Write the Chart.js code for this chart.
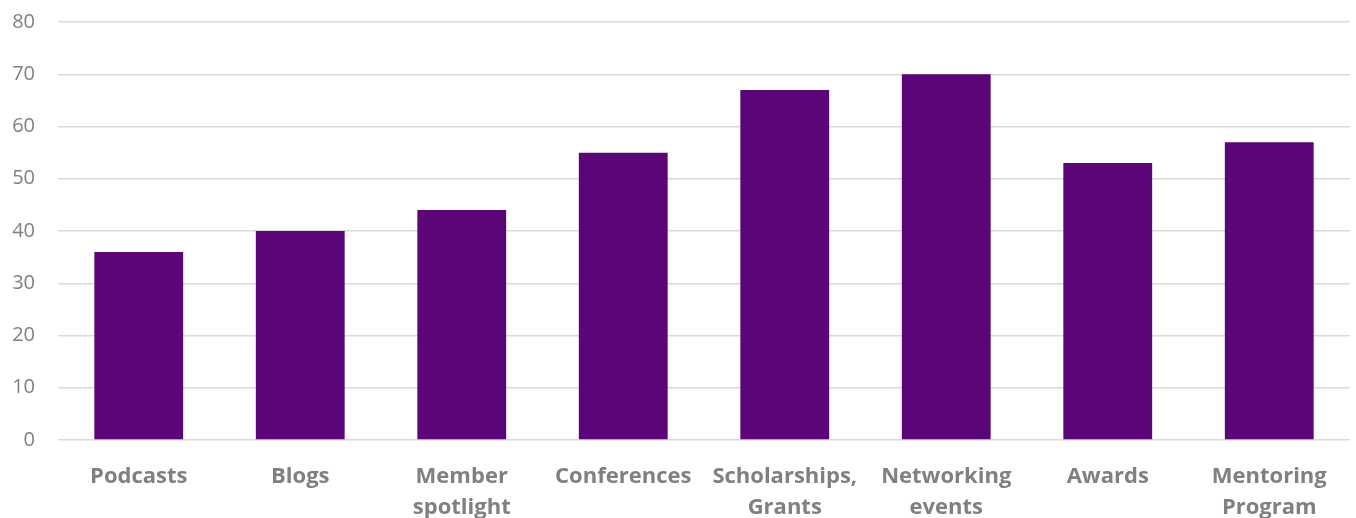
<!DOCTYPE html>
<html>
<head>
<meta charset="utf-8">
<script src="https://cdn.jsdelivr.net/npm/chart.js@4.4.0/dist/chart.umd.min.js"></script>
<style>
html,body{margin:0;padding:0;background:#fff;}
#wrap{width:1356px;height:518px;}
</style>
</head>
<body>
<div id="wrap"><canvas id="c" width="1356" height="518"></canvas></div>
<script>
const categories = [["Podcasts"],["Blogs"],["Member","spotlight"],["Conferences"],["Scholarships,","Grants"],["Networking","events"],["Awards"],["Mentoring","Program"]];
const values = [36, 40, 44, 55, 67, 70, 53, 57];
const yMin = 0, yMax = 80, yStep = 10;

new Chart(document.getElementById('c'), {
  type: 'bar',
  data: {
    labels: categories,
    datasets: [{
      data: values,
      backgroundColor: '#5B0678',
      borderWidth: 0,
      barPercentage: 0.55,
      categoryPercentage: 1.0
    }]
  },
  options: {
    responsive: false,
    animation: false,
    devicePixelRatio: 1,
    layout: { padding: { top: 22, right: 6, left: 0, bottom: 0 } },
    plugins: { legend: { display: false }, tooltip: { enabled: false } },
    scales: {
      x: {
        grid: { display: false, drawTicks: false },
        border: { display: false },
        ticks: {
          color: '#808080',
          font: { family: 'Open Sans', size: 22, weight: 'bold', lineHeight: 1.42 },
          padding: 21,
          maxRotation: 0,
          autoSkip: false
        },
        afterFit: (s) => { s.height = 78; s.paddingLeft = 0; s.paddingRight = 0; }
      },
      y: {
        min: yMin, max: yMax,
        grid: { color: '#d9d9d9', lineWidth: 1.5, drawTicks: false },
        border: { display: false },
        ticks: {
          stepSize: yStep,
          color: '#808080',
          font: { family: 'Open Sans', size: 20 },
          padding: 23
        },
        afterFit: (s) => { s.width = 58; s.paddingTop = 0; s.paddingBottom = 0; }
      }
    }
  }
});
</script>
</body>
</html>
